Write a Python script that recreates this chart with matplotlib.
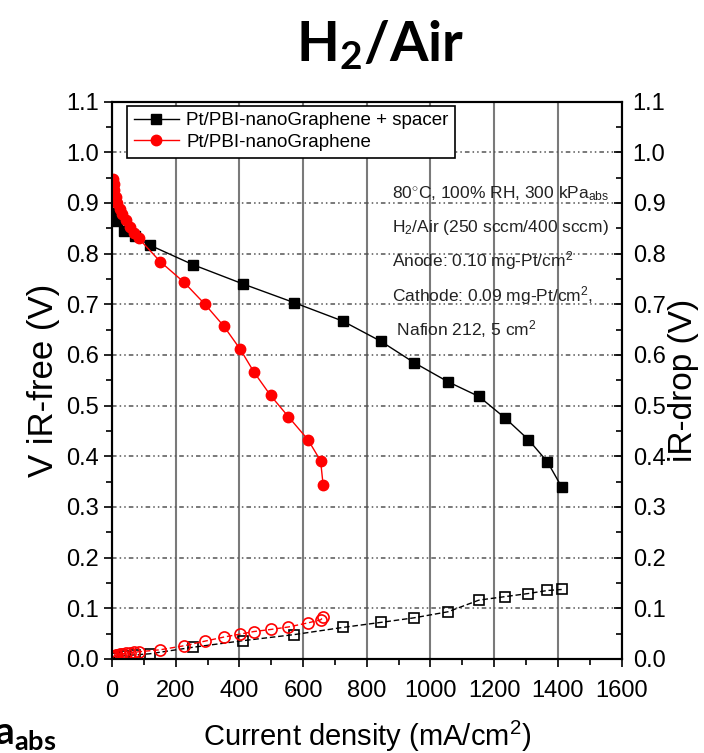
import matplotlib
matplotlib.use('Agg')
import matplotlib.pyplot as plt
from matplotlib.ticker import MultipleLocator

plt.rcParams['font.family'] = ['Liberation Sans', 'DejaVu Sans']
plt.rcParams['mathtext.fontset'] = 'custom'
plt.rcParams['mathtext.rm'] = 'Liberation Sans'
plt.rcParams['mathtext.it'] = 'Liberation Sans'
plt.rcParams['mathtext.bf'] = 'Lato:bold'

# Pt/PBI-nanoGraphene + spacer (black)
j_spacer = [3, 16, 38, 73, 118, 255, 412, 573, 724, 844, 948, 1055, 1152, 1235, 1307, 1367, 1412]
v_spacer = [0.881, 0.864, 0.844, 0.834, 0.817, 0.778, 0.740, 0.703, 0.667, 0.627, 0.585,
            0.547, 0.518, 0.475, 0.433, 0.389, 0.339]
ir_spacer = [0.002, 0.004, 0.006, 0.008, 0.010, 0.023, 0.036, 0.048, 0.062, 0.072, 0.081,
             0.093, 0.116, 0.123, 0.129, 0.135, 0.137]

# Pt/PBI-nanoGraphene (red)
j_plain = [2, 5, 8, 12, 17, 24, 33, 44, 57, 70, 84, 152, 227, 292, 351, 403, 446, 498,
           554, 615, 655, 663]
v_plain = [0.948, 0.938, 0.925, 0.912, 0.900, 0.889, 0.878, 0.866, 0.853, 0.840, 0.830,
           0.784, 0.743, 0.700, 0.657, 0.611, 0.566, 0.520, 0.478, 0.433, 0.391, 0.343]
ir_plain = [0.003, 0.005, 0.006, 0.007, 0.008, 0.009, 0.010, 0.011, 0.012, 0.013, 0.014,
            0.018, 0.026, 0.035, 0.043, 0.049, 0.054, 0.058, 0.063, 0.071, 0.077, 0.082]

labels = ['Pt/PBI-nanoGraphene + spacer', 'Pt/PBI-nanoGraphene']
notes = ['80$^{\\circ}$C, 100% RH, 300 kPa$_{abs}$',
         'H$_{2}$/Air (250 sccm/400 sccm)',
         'Anode: 0.10 mg-Pt/cm$^{2}$',
         'Cathode: 0.09 mg-Pt/cm$^{2}$,',
         ' Nafion 212, 5 cm$^{2}$']

fig = plt.figure(figsize=(7.04, 7.53), dpi=100)
ax = fig.add_axes([0.159, 0.125, 0.724, 0.740])

# polarization curves
ax.plot(j_spacer, v_spacer, '-', color='black', lw=1, marker='s', ms=7,
        mfc='black', mec='black', label=labels[0], zorder=4)
ax.plot(j_plain, v_plain, '-', color='red', lw=1, marker='o', ms=7.5,
        mfc='red', mec='red', label=labels[1], zorder=4)
# iR drop curves
ax.plot(j_spacer, ir_spacer, '--', dashes=(4, 2), color='black', lw=1, marker='s', ms=7,
        mfc='none', mec='black', mew=1.2, zorder=4)
ax.plot(j_plain, ir_plain, '--', dashes=(4, 2), color='red', lw=1, marker='o', ms=8,
        mfc='none', mec='red', mew=1.2, zorder=4)

ax.set_xlim(0, 1600)
ax.set_ylim(0, 1.1)
ax.xaxis.set_major_locator(MultipleLocator(200))
ax.xaxis.set_minor_locator(MultipleLocator(100))
ax.yaxis.set_major_locator(MultipleLocator(0.1))
ax.yaxis.set_minor_locator(MultipleLocator(0.05))
ax.yaxis.set_major_formatter(plt.FuncFormatter(lambda v, p: f'{v:.1f}'))

ax.xaxis.grid(True, which='major', color='#7a7a7a', lw=1.5, ls='-')
ax.yaxis.grid(True, which='major', color='#555555', lw=1.1, ls=(0, (3, 2, 1, 2, 1, 2)))
ax.set_axisbelow(True)

ax.tick_params(axis='both', which='both', direction='out', top=False, right=False,
               labelsize=17, width=1.2)
ax.tick_params(which='major', length=6)
ax.tick_params(which='minor', length=4)
ax.tick_params(axis='x', pad=9)
for s in ax.spines.values():
    s.set_linewidth(1.5)

ax.set_xlabel('Current density (mA/cm$^{2}$)', fontsize=21, labelpad=12)
ax.set_ylabel('V iR-free (V)', fontsize=25, labelpad=4)

ax2 = ax.twinx()
ax2.set_ylim(0, 1.1)
ax2.yaxis.set_major_locator(MultipleLocator(0.1))
ax2.yaxis.set_minor_locator(MultipleLocator(0.05))
ax2.yaxis.set_major_formatter(plt.FuncFormatter(lambda v, p: f'{v:.1f}'))
ax2.tick_params(axis='y', which='both', direction='in', labelsize=17, width=1.2, pad=8)
ax2.tick_params(which='major', length=6)
ax2.tick_params(which='minor', length=4)
ax2.set_ylabel('iR-drop (V)', fontsize=24, labelpad=2)
for s in ax2.spines.values():
    s.set_linewidth(1.5)

leg = ax.legend(loc='upper left', bbox_to_anchor=(0.03, 0.993), fontsize=13.5,
                frameon=True, fancybox=False, edgecolor='black', framealpha=1,
                borderaxespad=0, handlelength=2.4, handletextpad=0.4,
                borderpad=0.35, labelspacing=0.25)
leg.get_frame().set_linewidth(1.2)
leg.set_zorder(10)

y0 = 0.91
for i, t in enumerate(notes):
    ax.text(880, y0 - i * 0.068, t, fontsize=12.5, color='#222222', va='baseline',
            zorder=5)

fig.text(0.54, 0.918, 'H$\\mathbf{_{2}}$/Air', fontsize=40, fontweight='bold',
         family='Lato', ha='center', va='baseline')
fig.text(-0.008, 0.012, 'a$\\mathbf{_{abs}}$', fontsize=28, fontweight='bold',
         family='Lato', ha='left', va='baseline')

fig.savefig('out.png', dpi=100)
